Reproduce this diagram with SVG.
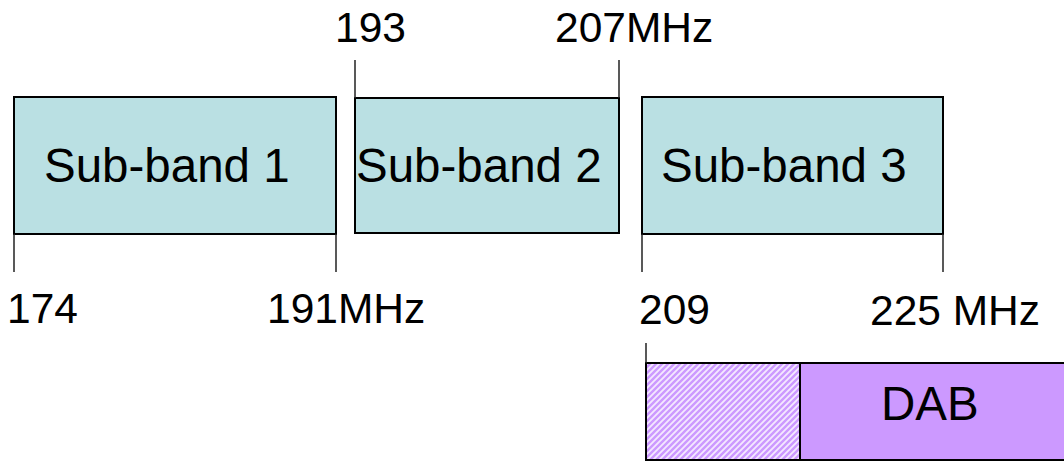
<svg xmlns="http://www.w3.org/2000/svg" width="1064" height="462" viewBox="0 0 1064 462">
<style>
.band{fill:#BAE0E3;stroke:#000;stroke-width:2}
.tick{stroke:#222;stroke-width:1.5;fill:none}
.lbl{font-family:"Liberation Sans",Arial,sans-serif;font-size:42.5px;fill:#000}
.big{font-family:"Liberation Sans",Arial,sans-serif;font-size:47.5px;fill:#000}
</style>
<defs>
<pattern id="hatch" width="6" height="6" patternUnits="userSpaceOnUse">
<rect width="6" height="6" fill="#F4E8FF"/>
<path d="M-1.5,1.5 L1.5,-1.5 M0,6 L6,0 M4.5,7.5 L7.5,4.5" stroke="#CC99FF" stroke-width="2.4"/>
</pattern>
</defs>
<rect width="1064" height="462" fill="#fff"/>
<g id="subband1">
<rect class="band" x="14" y="97" width="322" height="137"/>
<text class="big" x="44" y="182">Sub-band 1</text>
</g>
<g id="subband2">
<rect class="band" x="355" y="98" width="264" height="135"/>
<text class="big" x="356" y="182">Sub-band 2</text>
</g>
<g id="subband3">
<rect class="band" x="642" y="97" width="301" height="137"/>
<text class="big" x="661" y="182">Sub-band 3</text>
</g>
<g id="dab">
<rect x="646" y="363" width="154" height="97" fill="url(#hatch)" stroke="#000" stroke-width="2"/>
<rect x="800" y="363" width="270" height="97" fill="#CC99FF" stroke="#000" stroke-width="2"/>
<text class="big" x="881" y="420">DAB</text>
</g>
<g id="connectors">
<line class="tick" x1="14" y1="234" x2="14" y2="272"/>
<line class="tick" x1="336" y1="234" x2="336" y2="272"/>
<line class="tick" x1="355" y1="60" x2="355" y2="98"/>
<line class="tick" x1="619" y1="60" x2="619" y2="98"/>
<line class="tick" x1="642" y1="234" x2="642" y2="272"/>
<line class="tick" x1="943" y1="234" x2="943" y2="272"/>
<line class="tick" x1="646" y1="343" x2="646" y2="363"/>
</g>
<g id="labels">
<text class="lbl" x="335" y="42">193</text>
<text class="lbl" x="555" y="42">207MHz</text>
<text class="lbl" x="7" y="323">174</text>
<text class="lbl" x="267" y="323">191MHz</text>
<text class="lbl" x="639" y="324">209</text>
<text class="lbl" x="870" y="325">225 MHz</text>
</g>
</svg>
